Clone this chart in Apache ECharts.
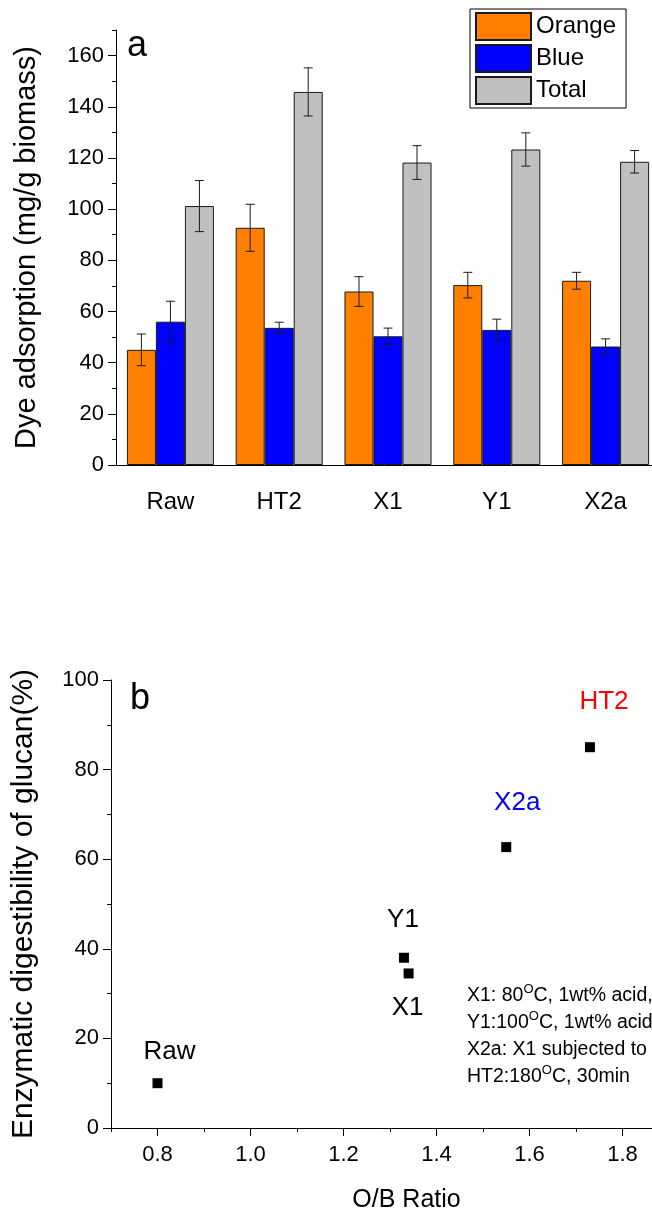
<!DOCTYPE html>
<html>
<head>
<meta charset="utf-8">
<script src="https://cdn.jsdelivr.net/npm/echarts@6/dist/echarts.min.js"></script>
<style>
  html, body { margin: 0; padding: 0; background: #fff; }
  #chart { width: 652px; height: 1211px; }
</style>
</head>
<body>
<div id="chart"></div>
<script>
// Panel a: dye adsorption of each biomass sample (mg/g), with error bars
const categories = ['Raw', 'HT2', 'X1', 'Y1', 'X2a'];
const orangeValues = [45, 92.7, 67.8, 70.3, 72];
const orangeErrors = [6.2, 9.2, 5.8, 5, 3.3];
const blueValues = [56, 53.6, 50.3, 52.8, 46.3];
const blueErrors = [8, 2.2, 3.2, 4.2, 3];
const totalValues = [101.2, 145.8, 118.2, 123.3, 118.5];
const totalErrors = [10, 9.4, 6.6, 6.5, 4.4];
const adsorptionTicks = [0, 20, 40, 60, 80, 100, 120, 140, 160];

// Panel b: enzymatic digestibility against the orange/blue ratio
const sampleNames = ['Raw', 'Y1', 'X1', 'X2a', 'HT2'];
const obRatio = [0.80, 1.33, 1.34, 1.55, 1.73];
const digestibility = [10, 38, 34.5, 62.7, 85];
const ratioTicks = [0.8, 1.0, 1.2, 1.4, 1.6, 1.8];

// Pretreatment conditions; "^O" marks the raised degree letter
const conditionNotes = [
  'X1: 80^OC, 1wt% acid,',
  'Y1:100^OC, 1wt% acid',
  'X2a: X1 subjected to',
  'HT2:180^OC, 30min'
];

const FONT = '"Liberation Sans", Arial, Helvetica, sans-serif';
const INK = '#000';

// label placement for each sample name around its marker
const sampleLabelStyle = {
  Raw: { offset: [12, -31], color: '#000' },
  Y1:  { offset: [-1, -38], color: '#000' },
  X1:  { offset: [-1, 34],  color: '#000' },
  X2a: { offset: [11, -44], color: '#0000FF' },
  HT2: { offset: [14, -45], color: '#FF0000' }
};

function barSeries(name, values, color) {
  return {
    name: name,
    type: 'bar',
    xAxisIndex: 0,
    yAxisIndex: 0,
    data: values,
    barGap: '0%',
    barCategoryGap: '20%',
    itemStyle: { color: color, borderColor: '#1a1a1a', borderWidth: 1 },
    emphasis: { disabled: true }
  };
}

// whiskers drawn over the bar in the given slot (0,1,2) of each group
function errorSeries(values, errors, slot) {
  return {
    type: 'custom',
    xAxisIndex: 0,
    yAxisIndex: 0,
    z: 5,
    silent: true,
    data: values.map((v, i) => [i, v, errors[i]]),
    encode: { x: 0, y: 1 },
    renderItem: function (params, api) {
      const i = api.value(0), v = api.value(1), e = api.value(2);
      const band = api.size([1, 0])[0];
      const barW = band * 0.8 / 3;
      const x = api.coord([i, v])[0] + (slot - 1) * barW;
      const yTop = api.coord([i, v + e])[1];
      const yBot = api.coord([i, v - e])[1];
      const cap = 4.5;
      const style = { stroke: '#1a1a1a', lineWidth: 1 };
      return {
        type: 'group',
        children: [
          { type: 'line', shape: { x1: x, y1: yTop, x2: x, y2: yBot }, style: style },
          { type: 'line', shape: { x1: x - cap, y1: yTop, x2: x + cap, y2: yTop }, style: style },
          { type: 'line', shape: { x1: x - cap, y1: yBot, x2: x + cap, y2: yBot }, style: style }
        ]
      };
    }
  };
}

const axisLineStyle = { color: INK, width: 1 };

const option = {
  backgroundColor: '#fff',
  animation: false,
  textStyle: { fontFamily: FONT, color: INK },
  // both panels run past the right edge of the page
  grid: [
    { left: 116, width: 544, top: 30, bottom: 746, containLabel: false, outerBoundsMode: 'none' },
    { left: 111, width: 558, top: 680, bottom: 83, containLabel: false, outerBoundsMode: 'none' }
  ],
  legend: {
    data: ['Orange', 'Blue', 'Total'],
    orient: 'vertical',
    left: 470,
    top: 9,
    icon: 'rect',
    itemWidth: 55,
    itemHeight: 27,
    itemGap: 3,
    padding: [3, 10, 3, 5],
    borderColor: INK,
    borderWidth: 1,
    selectedMode: false,
    textStyle: { fontSize: 24, fontFamily: FONT, color: INK }
  },
  xAxis: [
    {
      gridIndex: 0, type: 'category', data: categories, position: 'bottom',
      axisLine: { onZero: false, lineStyle: axisLineStyle },
      axisTick: { alignWithLabel: true, length: 8, lineStyle: axisLineStyle },
      axisLabel: { color: INK, fontSize: 24, fontFamily: FONT, margin: 25 }
    },
    {
      gridIndex: 0, type: 'category', data: categories, position: 'bottom',
      axisLine: { show: false },
      axisTick: { length: 3, lineStyle: axisLineStyle },
      axisLabel: { show: false }
    },
    {
      gridIndex: 1, type: 'value', min: 0.7, max: 1.9, interval: 0.1, position: 'bottom',
      splitLine: { show: false },
      axisLine: { show: true, onZero: false, lineStyle: axisLineStyle },
      axisTick: { show: true, length: 4, lineStyle: axisLineStyle },
      axisLabel: { show: false },
      name: 'O/B Ratio', nameLocation: 'middle', nameGap: 60,
      nameTextStyle: { fontSize: 25, fontFamily: FONT, color: INK, padding: [0, 0, 0, 33] }
    },
    {
      gridIndex: 1, type: 'value', min: 0.7, max: 1.9, position: 'bottom',
      splitLine: { show: false },
      axisLine: { show: false, onZero: false },
      axisTick: { show: true, customValues: ratioTicks, length: 8, lineStyle: axisLineStyle },
      axisLabel: {
        customValues: ratioTicks, color: INK, fontSize: 22, fontFamily: FONT, margin: 16,
        formatter: v => Number(v).toFixed(1)
      }
    }
  ],
  yAxis: [
    {
      gridIndex: 0, type: 'value', min: 0, max: 170, interval: 10, position: 'left',
      splitLine: { show: false },
      axisLine: { show: true, onZero: false, lineStyle: axisLineStyle },
      axisTick: { show: true, length: 4, lineStyle: axisLineStyle },
      axisLabel: { show: false },
      name: 'Dye adsorption (mg/g biomass)', nameLocation: 'middle', nameGap: 75,
      nameTextStyle: { fontSize: 29, fontFamily: FONT, color: INK }
    },
    {
      gridIndex: 0, type: 'value', min: 0, max: 170, position: 'left',
      splitLine: { show: false },
      axisLine: { show: false, onZero: false },
      axisTick: { show: true, customValues: adsorptionTicks, length: 8, lineStyle: axisLineStyle },
      axisLabel: { customValues: adsorptionTicks, color: INK, fontSize: 22, fontFamily: FONT, margin: 12 }
    },
    {
      gridIndex: 1, type: 'value', min: 0, max: 100, interval: 20, position: 'left',
      splitLine: { show: false },
      axisLine: { show: true, onZero: false, lineStyle: axisLineStyle },
      axisTick: { show: true, length: 8, lineStyle: axisLineStyle },
      minorTick: { show: true, splitNumber: 2, length: 4, lineStyle: axisLineStyle },
      axisLabel: { color: INK, fontSize: 22, fontFamily: FONT, margin: 12 },
      name: 'Enzymatic digestibility of glucan(%)', nameLocation: 'middle', nameGap: 72,
      nameTextStyle: { fontSize: 30, fontFamily: FONT, color: INK }
    }
  ],
  series: [
    barSeries('Orange', orangeValues, '#FF8000'),
    barSeries('Blue', blueValues, '#0000FF'),
    barSeries('Total', totalValues, '#C0C0C0'),
    errorSeries(orangeValues, orangeErrors, 0),
    errorSeries(blueValues, blueErrors, 1),
    errorSeries(totalValues, totalErrors, 2),
    {
      type: 'scatter',
      xAxisIndex: 2,
      yAxisIndex: 2,
      symbol: 'rect',
      symbolSize: 10,
      itemStyle: { color: '#000', opacity: 1 },
      emphasis: { disabled: true },
      label: {
        show: true, position: 'inside', formatter: '{b}',
        fontSize: 26, fontFamily: FONT, color: INK
      },
      data: sampleNames.map((n, i) => ({
        name: n,
        value: [obRatio[i], digestibility[i]],
        label: sampleLabelStyle[n]
      }))
    }
  ],
  graphic: [
    {
      type: 'text', x: 127, y: 46.5,
      style: { text: 'a', font: '36px ' + FONT, fill: INK, align: 'left', verticalAlign: 'middle' }
    },
    {
      type: 'text', x: 130, y: 699.5,
      style: { text: 'b', font: '36px ' + FONT, fill: INK, align: 'left', verticalAlign: 'middle' }
    },
    {
      type: 'text', x: 467, y: 982.5,
      style: {
        text: conditionNotes.map(s => s.replace(/\^O/g, '{sup|O}')).join('\n'),
        font: '19.5px ' + FONT,
        fill: INK,
        lineHeight: 27,
        align: 'left',
        verticalAlign: 'top',
        rich: {
          sup: { fontSize: 13, fontFamily: FONT, lineHeight: 16, verticalAlign: 'top', fill: INK }
        }
      }
    }
  ]
};

const chart = echarts.init(document.getElementById('chart'), null, { renderer: 'canvas' });
chart.setOption(option);
</script>
</body>
</html>
